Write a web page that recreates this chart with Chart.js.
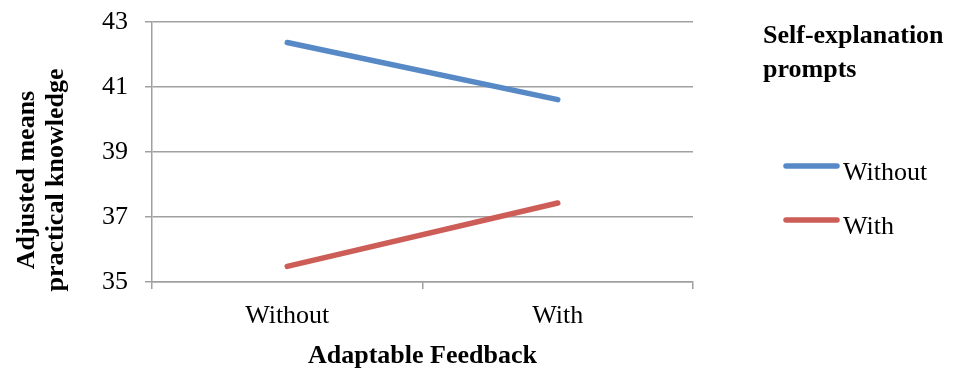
<!DOCTYPE html>
<html>
<head>
<meta charset="utf-8">
<script src="https://cdn.jsdelivr.net/npm/chart.js@4"></script>
<style>
  html, body { margin:0; padding:0; background:#fff; }
  #wrap { width:954px; height:369px; }
</style>
</head>
<body>
<div id="wrap"><canvas id="c" width="954" height="369"></canvas></div>
<script>
// ---------------------
// data
// ---------------------
const feedbackLabels = ["Without", "With"];
const seriesNames = ["Without", "With"];
const promptsWithout = [42.37, 40.61];
const promptsWith = [35.48, 37.43];
const yTicks = [35, 37, 39, 41, 43];

const FONT = "'Liberation Serif', 'Times New Roman', serif";
const GRID = "#a0a0a0";

// legend + y title drawn by hand, like the original
const sideLegend = {
  id: "sideLegend",
  afterDraw(chart){
    const ctx = chart.ctx;
    ctx.save();
    ctx.fillStyle = "#000";
    ctx.textAlign = "left";
    ctx.textBaseline = "alphabetic";
    ctx.font = "bold 26px " + FONT;
    ctx.fillText("Self-explanation", 763, 43);
    ctx.fillText("prompts", 763, 77);
    ctx.font = "26px " + FONT;
    chart.data.datasets.forEach((ds,i)=>{
      const y = 166 + i*54;
      ctx.strokeStyle = ds.borderColor;
      ctx.lineWidth = 5.5;
      ctx.lineCap = "round";
      ctx.beginPath();
      ctx.moveTo(786, y);
      ctx.lineTo(837, y);
      ctx.stroke();
      ctx.fillText(ds.label, 843, y + 14);
    });

    // y axis title, two lines, rotated
    ctx.font = "bold 26px " + FONT;
    ctx.textAlign = "center";
    ctx.textBaseline = "middle";
    ctx.translate(0, 180);
    ctx.rotate(-Math.PI/2);
    ctx.fillText("Adjusted means", 0, 27);
    ctx.fillText("practical knowledge", 0, 56);
    ctx.restore();
  }
};

new Chart(document.getElementById("c"), {
  type: "line",
  data: {
    labels: feedbackLabels,
    datasets: [
      {label: seriesNames[0], data: promptsWithout, borderColor: "#5689C6", borderWidth: 5.5, borderCapStyle: "round", pointRadius: 0, fill: false, tension: 0},
      {label: seriesNames[1], data: promptsWith, borderColor: "#CD5D57", borderWidth: 5.5, borderCapStyle: "round", pointRadius: 0, fill: false, tension: 0}
    ]
  },
  options: {
    responsive: false,
    animation: false,
    layout: { padding: { top: 22, right: 261, left: 0, bottom: 0 } },
    plugins: { legend: { display: false }, tooltip: { enabled: false } },
    scales: {
      x: {
        type: "category",
        offset: true,
        grid: { offset: true, drawOnChartArea: false, drawTicks: true, tickLength: 7, color: GRID, lineWidth: 1.5 },
        border: { color: GRID, width: 1.5 },
        ticks: { color: "#000", font: { family: FONT, size: 26 }, padding: 12, maxRotation: 0 },
        title: { display: true, text: "Adaptable Feedback", color: "#000", font: { family: FONT, size: 26, weight: "bold", lineHeight: 1 }, padding: { top: 0, bottom: 0 } },
        afterFit(s){ s.height = 87; s.paddingLeft = 0; s.paddingRight = 0; }
      },
      y: {
        min: 35, max: 43,
        afterBuildTicks(s){ s.ticks = yTicks.map(v=>({value:v})); },
        grid: { color: GRID, lineWidth: 1.5, tickLength: 7 },
        border: { color: GRID, width: 1.5 },
        ticks: { color: "#000", font: { family: FONT, size: 26 }, padding: 17 },
        afterFit(s){ s.width = 152; s.paddingTop = 0; s.paddingBottom = 0; }
      }
    }
  },
  plugins: [sideLegend]
});
</script>
</body>
</html>
